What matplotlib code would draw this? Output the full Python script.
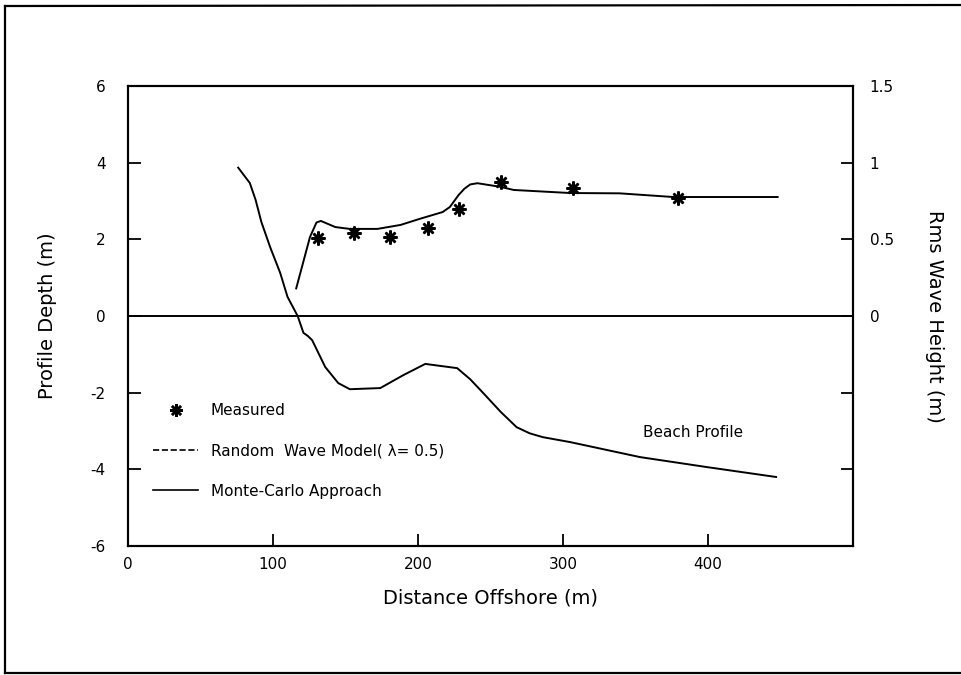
import numpy as np
import matplotlib
matplotlib.use("Agg")
import matplotlib.pyplot as plt
from matplotlib.lines import Line2D

# ------------------------------------------------------------------
# data
# ------------------------------------------------------------------
# beach profile (left axis, m)
profile_x = [76, 84, 88, 92, 98, 105, 110, 117, 121, 124, 127, 136, 145, 153,
             174, 190, 205, 227, 236, 245, 257, 268, 277, 286, 305, 353, 399, 447]
profile_y = [3.87, 3.47, 3.03, 2.45, 1.80, 1.12, 0.50, 0.0, -0.44, -0.52, -0.63,
             -1.33, -1.75, -1.91, -1.88, -1.54, -1.25, -1.36, -1.65, -2.01,
             -2.50, -2.90, -3.06, -3.16, -3.29, -3.68, -3.94, -4.20]

# Monte-Carlo rms wave height (right axis, m)
mc_x = [116, 125.5, 130, 133, 143, 153, 172, 188, 201, 217, 222, 225, 228,
        232, 236, 241, 257, 266, 305, 339, 376, 448]
mc_h = [0.18, 0.515, 0.61, 0.62, 0.58, 0.568, 0.568, 0.594, 0.633, 0.678,
        0.711, 0.75, 0.789, 0.83, 0.858, 0.866, 0.842, 0.822, 0.802, 0.800,
        0.776, 0.776]

# measured rms wave height
meas_x = [131, 156, 181, 207, 228, 257, 307, 379]
meas_h = [0.509, 0.541, 0.515, 0.574, 0.698, 0.874, 0.835, 0.770]

left_ticks = [-6, -4, -2, 0, 2, 4, 6]
right_ticks = [-1.0, -0.5, 0, 0.5, 1.0, 1.5]
right_labels = ["", "", "0", "0.5", "1", "1.5"]
x_ticks = [0, 100, 200, 300, 400]

# ------------------------------------------------------------------
plt.rcParams["font.family"] = ["DejaVu Sans"]
plt.rcParams["axes.unicode_minus"] = False

fig = plt.figure(figsize=(9.62, 6.75), dpi=100)
ax = fig.add_axes([128 / 962, 1 - 546 / 675, 725 / 962, 460 / 675])
ax2 = ax.twinx()

ax.plot(profile_x, profile_y, color="black", lw=1.4)
ax.axhline(0, color="black", lw=1.4)

ax2.plot(mc_x, mc_h, color="black", lw=1.4)
ax2.plot(meas_x, meas_h, linestyle="none", marker=(8, 2, 0), markersize=10,
         markeredgewidth=1.8, color="black")

ax.set_xlim(0, 500)
ax.set_ylim(-6, 6)
ax2.set_ylim(-1.5, 1.5)

ax.set_xticks(x_ticks)
ax.set_yticks(left_ticks)
ax2.set_yticks(right_ticks)
ax2.set_yticklabels(right_labels)

ax.tick_params(axis="both", direction="in", length=9, width=1.3,
               labelsize=11, right=False, top=False)
ax.tick_params(axis="y", pad=16)
ax.tick_params(axis="x", pad=8)
ax2.tick_params(axis="y", direction="in", length=9, width=1.3,
                labelsize=11, pad=12)

for a in (ax, ax2):
    for s in a.spines.values():
        s.set_linewidth(1.5)

ax.set_xlabel("Distance Offshore (m)", fontsize=14, labelpad=12)
ax.set_ylabel("Profile Depth (m)", fontsize=14, labelpad=24)
ax2.set_ylabel("Rms Wave Height (m)", fontsize=14, rotation=-90, labelpad=36)

ax.text(390, -3.05, "Beach Profile", fontsize=11, ha="center", va="center")

handles = [
    Line2D([], [], linestyle="none", marker=(8, 2, 0), markersize=9,
           markeredgewidth=1.8, color="black"),
    Line2D([], [], linestyle="--", color="black", lw=1.2),
    Line2D([], [], linestyle="-", color="black", lw=1.2),
]
labels = ["Measured", "Random  Wave Model( \u03bb= 0.5)", "Monte-Carlo Approach"]
ax.legend(handles, labels, loc="upper left", bbox_to_anchor=(0.034, 0.31),
          frameon=False, fontsize=11, handlelength=3.0, handletextpad=0.8,
          labelspacing=1.65, borderpad=0, borderaxespad=0, numpoints=1)

# outer frame of the scanned figure
frame_kw = dict(transform=fig.transFigure, color="black", lw=1.6)
fig.add_artist(Line2D([5 / 962, 5 / 962], [1 - 6 / 675, 1 - 673 / 675], **frame_kw))
fig.add_artist(Line2D([5 / 962, 1.0], [1 - 6 / 675, 1 - 5 / 675], **frame_kw))
fig.add_artist(Line2D([5 / 962, 1.0], [1 - 673 / 675, 1 - 673 / 675], **frame_kw))

fig.savefig("out.png", dpi=100)
